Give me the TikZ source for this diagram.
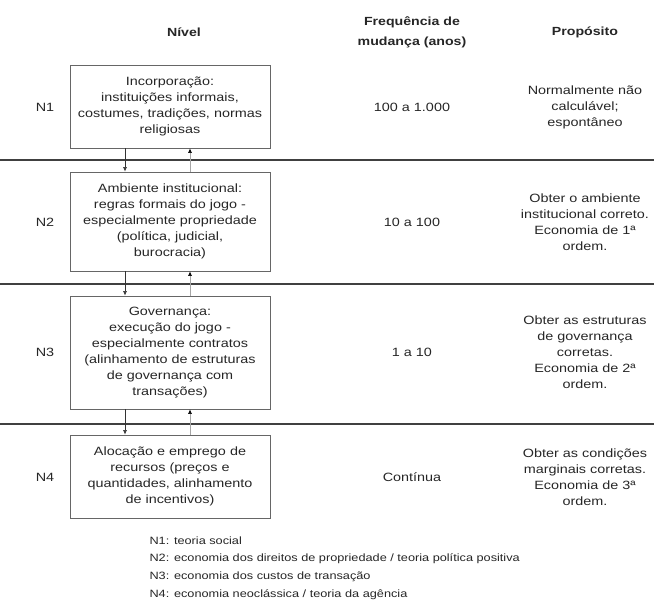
\documentclass[tikz,border=0pt]{standalone}
\usepackage{fontspec}
\setmainfont[FakeStretch=1.2]{Liberation Sans}
\usetikzlibrary{arrows.meta}
\begin{document}
\begin{tikzpicture}[x=1pt,y=-1pt,
  lvlbox/.style={draw=black!60,line width=0.9pt,minimum width=200pt,align=center,inner sep=1pt,font=\fontsize{12}{16}\selectfont,text=black!85},
  plain/.style={align=center,font=\fontsize{12}{16}\selectfont,text=black!85},
  hdr/.style={align=center,font=\bfseries\fontsize{11.8}{20}\selectfont,text=black!85},
  sep/.style={draw=black!75,line width=1.6pt},
  down/.style={draw=black!80,line width=0.6pt,-{Latex[length=4.5pt,width=4pt]}},
  up/.style={draw=black!35,line width=0.6pt,-{Latex[length=4.5pt,width=4pt,color=black]}},
  leg/.style={anchor=west,font=\fontsize{10.6}{13}\selectfont,text=black!85}]
\useasboundingbox (0,0) rectangle (654,610);
% headers
\node[hdr] (h1) at (184,32) {Nível};
\node[hdr] (h2) at (412,32) {Frequência de\\mudança (anos)};
\node[hdr] (h3) at (585,32) {Propósito};
% separator lines
\coordinate (s1l) at (0,160); \coordinate (s1r) at (654,160);
\coordinate (s2l) at (0,284); \coordinate (s2r) at (654,284);
\coordinate (s3l) at (0,424); \coordinate (s3r) at (654,424);
\draw[sep] (s1l) -- (s1r);
\draw[sep] (s2l) -- (s2r);
\draw[sep] (s3l) -- (s3r);
% boxes
\node[lvlbox,minimum height=83pt] (b1) at (170,106.5) {Incorporação:\\instituições informais,\\costumes, tradições, normas\\religiosas};
\node[lvlbox,minimum height=99pt] (b2) at (170,221.5) {Ambiente institucional:\\regras formais do jogo -\\especialmente propriedade\\(política, judicial,\\burocracia)};
\node[lvlbox,minimum height=113pt] (b3) at (170,352.5) {Governança:\\execução do jogo -\\especialmente contratos\\(alinhamento de estruturas\\de governança com\\transações)};
\node[lvlbox,minimum height=83pt] (b4) at (170,476.5) {Alocação e emprego de\\recursos (preços e\\quantidades, alinhamento\\de incentivos)};
% level labels
\node[plain] (n1) at (45,107) {N1};
\node[plain] (n2) at (45,222) {N2};
\node[plain] (n3) at (45,352) {N3};
\node[plain] (n4) at (45,477) {N4};
% frequencies
\node[plain] (f1) at (412,107) {100 a 1.000};
\node[plain] (f2) at (412,222) {10 a 100};
\node[plain] (f3) at (412,352) {1 a 10};
\node[plain] (f4) at (412,477) {Contínua};
% purposes
\node[plain] (p1) at (585,107) {Normalmente não\\calculável;\\espontâneo};
\node[plain] (p2) at (585,222) {Obter o ambiente\\institucional correto.\\Economia de 1ª\\ordem.};
\node[plain] (p3) at (585,352) {Obter as estruturas\\de governança\\corretas.\\Economia de 2ª\\ordem.};
\node[plain] (p4) at (585,477) {Obter as condições\\marginais corretas.\\Economia de 3ª\\ordem.};
% arrows
\draw[down] (b1.south -| 125,0) -- (b2.north -| 125,0);
\draw[down] (b2.south -| 125,0) -- (b3.north -| 125,0);
\draw[down] (b3.south -| 125,0) -- (b4.north -| 125,0);
\draw[up] (b2.north -| 190,0) -- (b1.south -| 190,0);
\draw[up] (b3.north -| 190,0) -- (b2.south -| 190,0);
\draw[up] (b4.north -| 190,0) -- (b3.south -| 190,0);
% legend
\node[leg] (l1) at (146,541) {N1: teoria social};
\node[leg] (l2) at (146,559) {N2: economia dos direitos de propriedade / teoria política positiva};
\node[leg] (l3) at (146,577) {N3: economia dos custos de transação};
\node[leg] (l4) at (146,595) {N4: economia neoclássica / teoria da agência};
\end{tikzpicture}
\end{document}
